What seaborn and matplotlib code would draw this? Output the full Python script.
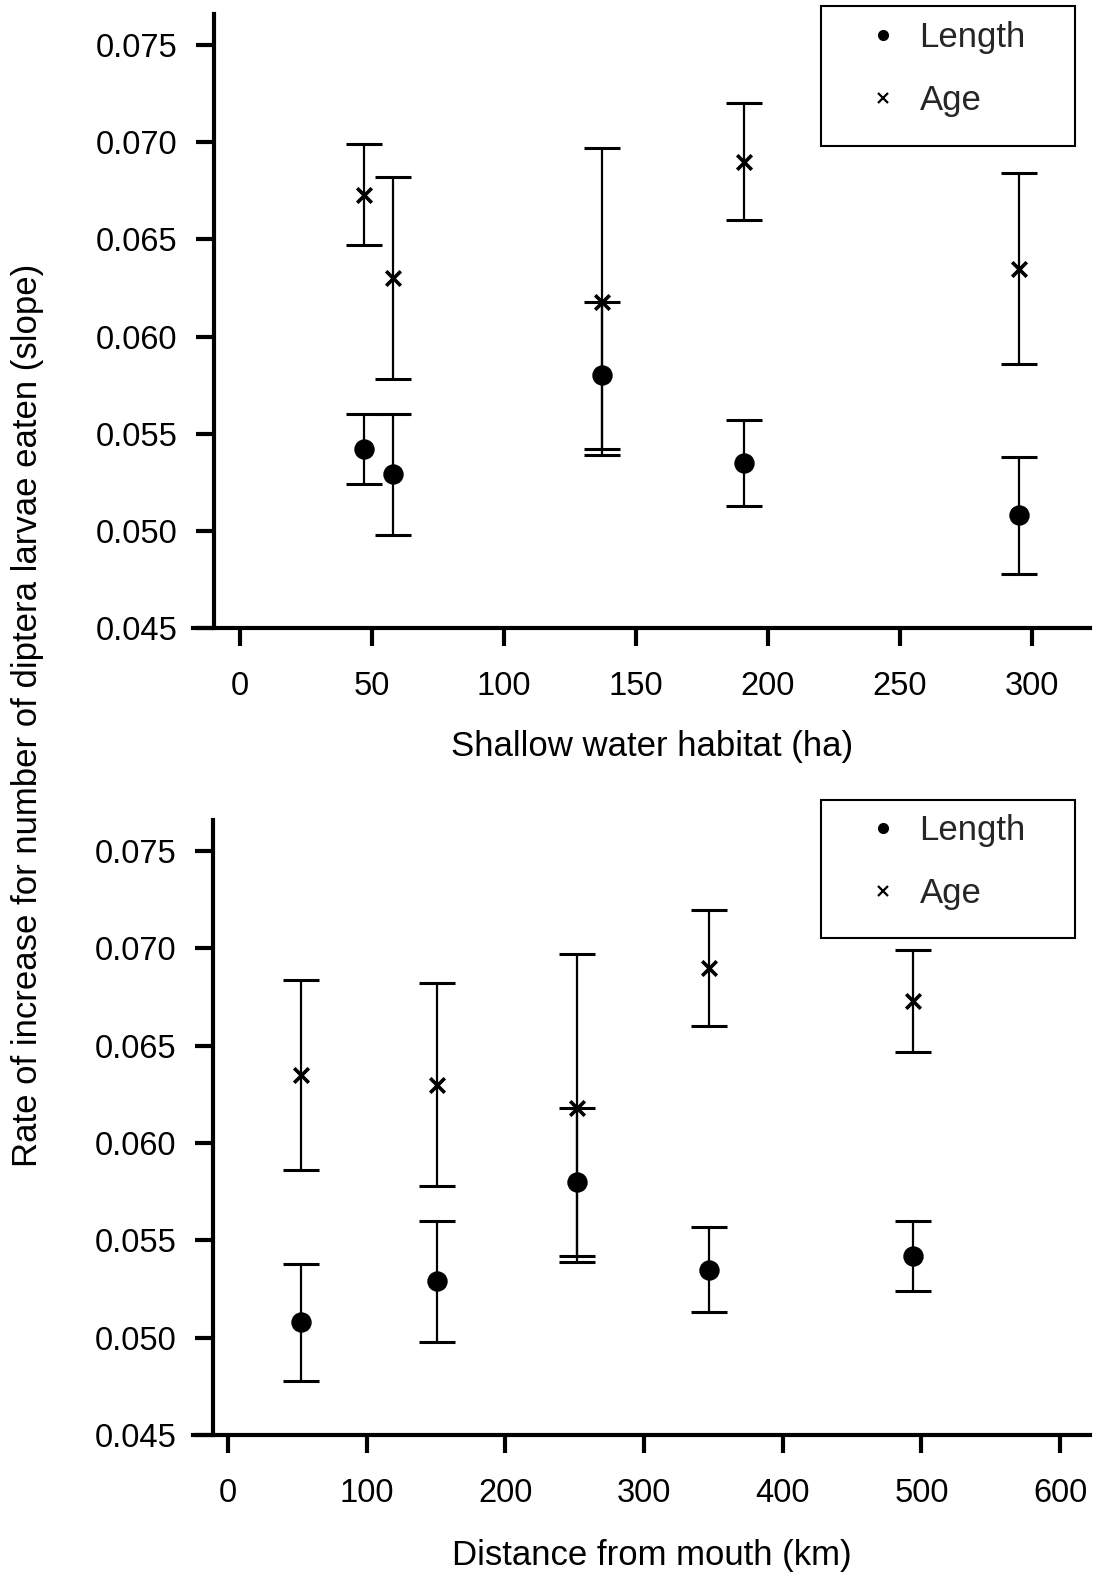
import numpy as np
import pandas as pd
import matplotlib
matplotlib.use("Agg")
import matplotlib.pyplot as plt
from matplotlib.lines import Line2D
from matplotlib.patches import Rectangle
import seaborn as sns

# values (five sites, same slopes in both panels)
habitat_ha = [47, 58, 137, 191, 295]
distance_km = [494, 151, 252, 347, 53]
length_slope = [0.0542, 0.0529, 0.0580, 0.0535, 0.0508]
length_err = [0.0018, 0.0031, 0.0038, 0.0022, 0.0030]
age_slope = [0.0673, 0.0630, 0.0618, 0.0690, 0.0635]
age_err = [0.0026, 0.0052, 0.0079, 0.0030, 0.0049]

y_ticks = [0.045, 0.050, 0.055, 0.060, 0.065, 0.070, 0.075]
top_xticks = [0, 50, 100, 150, 200, 250, 300]
bottom_xticks = [0, 100, 200, 300, 400, 500, 600]

sns.set_theme(style="ticks")
plt.rcParams["font.family"] = ["Liberation Sans", "DejaVu Sans"]
TICK_FS = 23.5
LABEL_FS = 25

W, H = 1099, 1572
fig = plt.figure(figsize=(W / 100, H / 100), dpi=100)


def fx(px):
    return px / W


def fy(px):
    return 1 - px / H


def make_frame(x):
    n = len(x)
    return pd.DataFrame({
        "x": list(x) * 2,
        "slope": length_slope + age_slope,
        "err": length_err + age_err,
        "measure": ["Length"] * n + ["Age"] * n,
    })


def draw_panel(ax, x, xlim, spine_x, xticks, xlabel, label_y):
    df = make_frame(x)
    for m in ["Length", "Age"]:
        d = df[df["measure"] == m]
        ax.errorbar(d["x"], d["slope"], yerr=d["err"], fmt="none",
                    ecolor="black", elinewidth=1.6, capsize=13, capthick=2.2,
                    zorder=2)
    sns.scatterplot(data=df[df["measure"] == "Length"], x="x", y="slope",
                    marker="o", s=185, color="black", edgecolor="black",
                    ax=ax, zorder=3, legend=False)
    sns.scatterplot(data=df[df["measure"] == "Age"], x="x", y="slope",
                    marker="x", s=110, color="black", linewidth=2.6,
                    ax=ax, zorder=3, legend=False)
    ax.set_xlim(*xlim)
    ax.set_ylim(0.045, 0.0766)
    ax.set_xticks(xticks)
    ax.set_yticks(y_ticks)
    ax.set_yticklabels([f"{v:.3f}" for v in y_ticks])
    sns.despine(ax=ax)
    ax.spines["left"].set_position(("data", spine_x))
    for s in ["left", "bottom"]:
        ax.spines[s].set_linewidth(3)
        ax.spines[s].set_color("black")
    ax.tick_params(axis="both", direction="out", length=13, width=3,
                   color="black", labelsize=TICK_FS, labelcolor="black")
    ax.tick_params(axis="x", pad=18)
    ax.tick_params(axis="y", pad=13)
    ax.set_ylabel("")
    ax.set_xlabel(xlabel, fontsize=LABEL_FS, color="black")
    ax.xaxis.label.set_va("center")
    ax.xaxis.set_label_coords(0.512, label_y)
    ax.set_facecolor("white")


def draw_legend(ax, box_top, box_bottom, rows_center):
    handles = [
        Line2D([], [], ls="none", marker="o", ms=7, color="black"),
        Line2D([], [], ls="none", marker="x", ms=7, mew=1.6, color="black"),
    ]
    ax.legend(handles, ["Length", "Age"], loc="center",
              bbox_to_anchor=(fx(950), fy(rows_center)),
              bbox_transform=fig.transFigure, frameon=False, fontsize=LABEL_FS,
              handlelength=0.5, handletextpad=0.8, labelspacing=0.85,
              borderpad=0)
    fig.add_artist(Rectangle((fx(821), fy(box_bottom)), fx(1075) - fx(821),
                             fy(box_top) - fy(box_bottom),
                             transform=fig.transFigure, fill=False,
                             lw=1.5, edgecolor="black"))


left, width = fx(193), fx(1090) - fx(193)
ax1 = fig.add_axes([left, fy(628), width, fy(14) - fy(628)])
ax2 = fig.add_axes([left, fy(1435), width, fy(820) - fy(1435)])

draw_panel(ax1, habitat_ha, (-17.8, 322), -10, top_xticks,
           "Shallow water habitat (ha)", (628 - 747) / 614)
draw_panel(ax2, distance_km, (-25.2, 621.5), -11, bottom_xticks,
           "Distance from mouth (km)", (1435 - 1555) / 615)

draw_legend(ax1, 6, 146, 69)
draw_legend(ax2, 800, 938, 862)

fig.text(fx(28), fy(715), "Rate of increase for number of diptera larvae eaten (slope)",
         rotation=90, ha="center", va="center", fontsize=LABEL_FS, color="black")

fig.savefig("out.png", dpi=100, facecolor="white")
